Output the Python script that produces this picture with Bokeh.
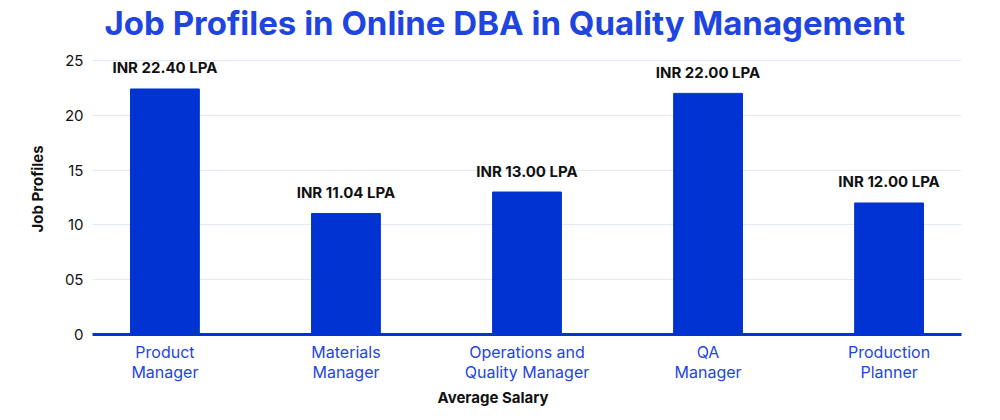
from bokeh.plotting import figure
from bokeh.models import Range1d, FixedTicker, Title, ColumnDataSource, Label
from bokeh.core.properties import value
from bokeh.embed import file_html
from bokeh.resources import INLINE

categories = ["Product\nManager", "Materials\nManager", "Operations and\nQuality Manager", "QA\nManager", "Production\nPlanner"]
salaries = [22.40, 11.04, 13.00, 22.00, 12.00]
labels = ["INR 22.40 LPA", "INR 11.04 LPA", "INR 13.00 LPA", "INR 22.00 LPA", "INR 12.00 LPA"]
y_ticks = [0, 5, 10, 15, 20, 25]
y_tick_labels = ["0", "05", "10", "15", "20", "25"]
title_text = "Job Profiles in Online DBA in Quality Management"

FONT = "Inter"
BAR = "#0033d1"
BLUE = "#1f45e0"

xs = list(range(len(categories)))
src = ColumnDataSource(dict(x=xs, top=salaries, label=labels))

# frame spans the full height above the x axis; the top 60px hold the title
FRAME_H = 334
AXIS_TOP_PX = 60
y_end = 25 * FRAME_H / (FRAME_H - AXIS_TOP_PX)

p = figure(width=1000, height=420, output_backend="svg", toolbar_location=None,
           x_range=Range1d(-0.4, 4.4), y_range=Range1d(0, y_end),
           min_border_left=92, min_border_right=39, min_border_top=0, min_border_bottom=86)
p.outline_line_color = None
p.background_fill_color = "white"

p.vbar(x="x", top="top", width=0.38, color=BAR, source=src)
p.text(x="x", y="top", text="label", source=src, text_align="center", text_baseline="alphabetic",
       y_offset=-21, text_font=value(FONT), text_font_size="15px", text_font_style="bold",
       text_color="#111111")

p.xgrid.visible = False
p.ygrid.grid_line_color = "#e3e9f6"
p.ygrid.ticker = FixedTicker(ticks=y_ticks)

yax = p.yaxis[0]
yax.ticker = FixedTicker(ticks=y_ticks)
yax.major_label_overrides = {t: l for t, l in zip(y_ticks, y_tick_labels)}
yax.axis_line_color = None
yax.major_tick_line_color = None
yax.major_tick_out = 0
yax.major_tick_in = 0
yax.minor_tick_line_color = None
yax.minor_tick_out = 0
yax.major_label_text_font = FONT
yax.major_label_text_font_size = "15px"
yax.major_label_text_color = "#111111"
yax.major_label_standoff = 9

xax = p.xaxis[0]
xax.ticker = FixedTicker(ticks=xs)
xax.major_label_overrides = {i: c for i, c in zip(xs, categories)}
xax.axis_line_color = BAR
xax.axis_line_width = 3
xax.major_tick_line_color = None
xax.major_tick_out = 0
xax.major_tick_in = 0
xax.minor_tick_line_color = None
xax.minor_tick_out = 0
xax.major_label_text_font = FONT
xax.major_label_text_font_size = "16px"
xax.major_label_text_line_height = 1.0
xax.major_label_text_color = BLUE
xax.major_label_standoff = 7

p.add_layout(Title(text="Job Profiles", align="left", offset=102, standoff=30, text_font=FONT,
                   text_font_size="15px", text_font_style="bold", text_color="#111111"), "left")
p.add_layout(Title(text="Average Salary", align="left", offset=345, standoff=2, text_font=FONT,
                   text_font_size="15px", text_font_style="bold", text_color="#111111"), "below")

p.add_layout(Label(x=12, y=FRAME_H - 22, x_units="screen", y_units="screen", text=title_text,
                   text_align="left", text_baseline="middle", text_font=FONT,
                   text_font_size="33px", text_font_style="bold", text_color=BLUE))

open("out.html", "w").write(file_html(p, INLINE))
